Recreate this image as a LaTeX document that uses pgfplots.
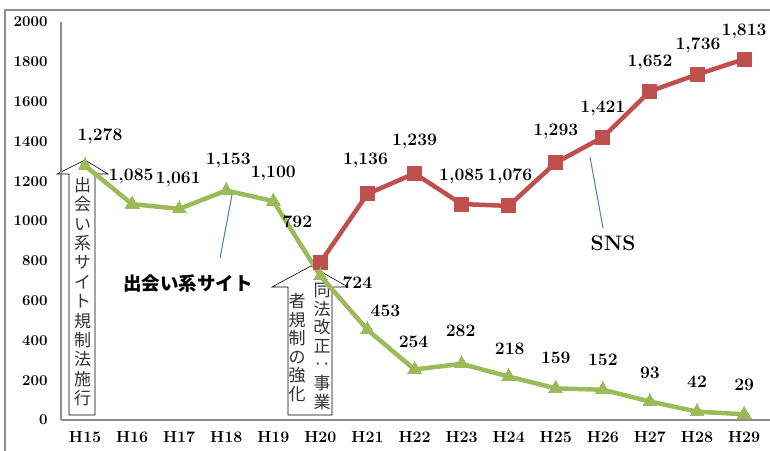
\documentclass[border=0pt]{standalone}
\usepackage{pgfplots}
\pgfplotsset{compat=1.18}
\usepackage{fontspec}
\newfontfamily\jp{Noto Sans CJK JP}
\definecolor{cgreen}{HTML}{9BBB59}
\definecolor{cred}{HTML}{C0504D}
\definecolor{cblue}{HTML}{4A7EBB}
\definecolor{axgray}{HTML}{8C8C8C}
\begin{document}
\begin{tikzpicture}
\useasboundingbox (0pt,0pt) rectangle (770pt,450pt);
% outer frame
\draw[axgray, line width=1.5pt] (5pt,-5pt) -- (5pt,440pt) -- (780pt,440pt);
\begin{scope}[x=1pt,y=1pt]
% left arrow box
\draw[black, line width=0.6pt, fill=white]
  (69,35) -- (69,276) -- (57,276) -- (85,290) -- (108,276) -- (95,276) -- (95,35) -- cycle;
\node[anchor=north, align=center, inner sep=0pt, text=black!80,
  font=\jp\fontsize{17}{19.4}\selectfont] at (82.5,273) {出\\会\\い\\系\\サ\\イ\\ト\\規\\制\\法\\施\\行};
% right arrow box
\draw[black, line width=0.6pt, fill=white]
  (288,35) -- (288,163) -- (272,163) -- (311,184) -- (348,163) -- (332,163) -- (332,35) -- cycle;
\node[anchor=north, align=center, inner sep=0pt, text=black!80,
  font=\jp\fontsize{17}{18.6}\selectfont] at (322,167) {同\\法\\改\\正\\‥\\事\\業};
\node[anchor=north, align=center, inner sep=0pt, text=black!80,
  font=\jp\fontsize{17}{18.6}\selectfont] at (297,157) {者\\規\\制\\の\\強\\化};
\end{scope}
\begin{axis}[
  at={(85pt,30pt)}, anchor=origin,
  scale only axis, width=709pt, height=398pt,
  xmin=-0.51, xmax=14.55, ymin=0, ymax=2000,
  axis x line*=bottom, axis y line*=left,
  axis line style={axgray, line width=1.6pt, -},
  xtick={0,...,14},
  xticklabels={H15,H16,H17,H18,H19,H20,H21,H22,H23,H24,H25,H26,H27,H28,H29},
  ytick={0,200,...,2000},
  major tick length=0pt,
  /pgf/number format/1000 sep={},
  /pgf/number format/assume math mode=true,
  yticklabel style={font=\bfseries\fontsize{15}{17}\selectfont, xshift=-10pt},
  xticklabel style={font=\bfseries\fontsize{16}{18}\selectfont, yshift=-8pt},
  clip=false,
  nodes near coords={\pgfmathprintnumber[fixed,precision=0,1000 sep={,}]{\pgfplotspointmeta}},
  visualization depends on={value \thisrow{dx} \as \mydx},
  visualization depends on={value \thisrow{dy} \as \mydy},
  every node near coord/.append style={anchor=center, xshift=\mydx pt, yshift=\mydy pt,
     font=\bfseries\fontsize{17.5}{19}\selectfont, text=black, inner sep=0pt},
]
\addplot[cred, line width=4.5pt, mark=square*, mark size=7pt,
  mark options={fill=cred, draw=cred, line width=0pt}]
  table[x=x, y=y] {
x y dx dy
5 792 -23 41
6 1136 -2 33
7 1239 0 32
8 1085 0 28
9 1076 1 30
10 1293 0 31
11 1421 0 29
12 1652 0 29
13 1736 1 29
14 1813 0 28
};
\addplot[cgreen, line width=4.5pt, mark=triangle*, mark size=8pt,
  mark options={fill=cgreen, draw=cgreen, line width=0pt}]
  table[x=x, y=y] {
x y dx dy
0 1278 15 29
1 1085 -1 28
2 1061 -1 29
3 1153 2 30
4 1100 0 28
5 724 37 -7
6 453 18 19
7 254 -1 28
8 282 -1 33
9 218 1 28
10 159 0 30
11 152 0 30
12 93 0 29
13 42 0 30
14 29 0 29
};
\end{axis}
\begin{scope}[x=1pt,y=1pt]
% callouts
\draw[cblue, line width=1pt] (232,255) -- (220,192);
\node[font=\jp\bfseries\fontsize{18.5}{20}\selectfont, inner sep=0pt] at (188,167) {出会い系サイト};
\draw[cblue, line width=1pt] (590,293) -- (603,222);
\node[font=\bfseries\fontsize{21}{23}\selectfont, inner sep=0pt] at (613,207) {SNS};
\end{scope}
\end{tikzpicture}
\end{document}
